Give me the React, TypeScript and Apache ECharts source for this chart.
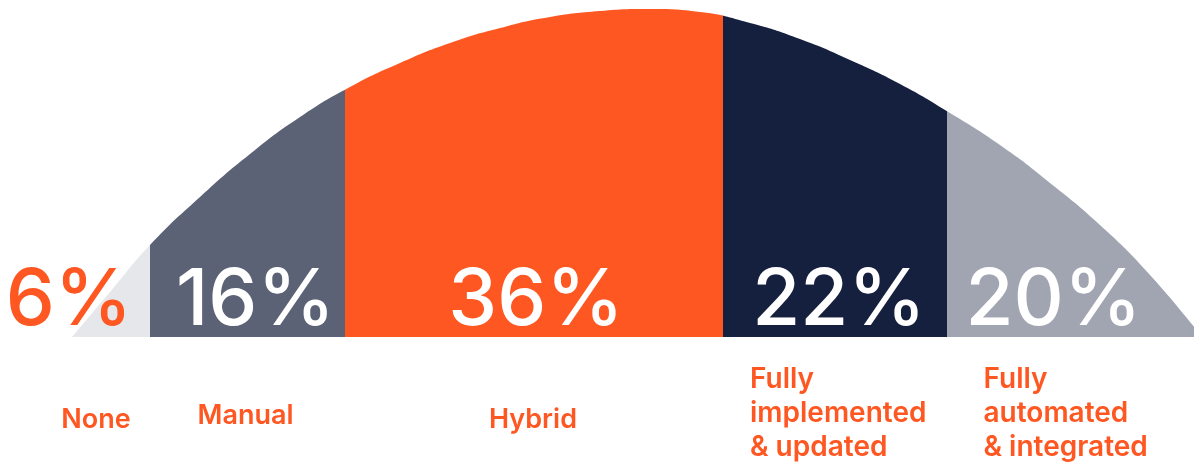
import React, { useEffect, useRef } from "react";
import * as echarts from "echarts";

// Adoption categories and their shares (%)
const categories = ["None", "Manual", "Hybrid", "Fully\nimplemented\n& updated", "Fully\nautomated\n& integrated"];
const shares = [6, 16, 36, 22, 20];
// Segment boundaries along the arch (horizontal units)
const segmentEdges = [72, 150, 345, 723, 947, 1202];
// Arch outline: horizontal position and height
const curveX = [72, 110, 150, 200, 250, 300, 350, 400, 450, 500, 550, 600, 650, 700, 750, 800, 850, 900, 950, 1000, 1050, 1100, 1150, 1202];
const curveH = [0, 45, 92, 140, 183, 220, 250, 274, 294, 309, 320, 326, 328, 325, 314, 298, 277, 253, 224, 192, 154, 112, 62, 0];

// Styles
const segColors = ["#e6e7eb", "#5c6276", "#fe5722", "#151f3e", "#a1a5b1"];
const pctColors = ["#fe5722", "#ffffff", "#ffffff", "#ffffff", "#ffffff"];
const pctDx = [-42, 8, 2, 4, -21];
const catDx = [-15, -2, -1, -85, -91];
const catDy = [81, 77, 81, 75, 75];
const catAlign = ["center", "center", "center", "left", "left"];
const catSize = [27, 27, 27, 28, 28];
const ORANGE = "#fe5722";
const FONT = "Inter, 'Noto Sans', sans-serif";

export default function App() {
  const ref = useRef<HTMLDivElement>(null);
  useEffect(() => {
    if (!ref.current) return;
    const chart = echarts.init(ref.current, undefined, { renderer: "svg" });
    const labelData = categories.map((c, i) => [(segmentEdges[i] + segmentEdges[i + 1]) / 2, shares[i], i]);
    chart.setOption({
      animation: false,
      grid: { left: 0, right: 0, top: 0, bottom: 126 },
      xAxis: { type: "value", min: 0, max: 1194, show: false },
      yAxis: { type: "value", min: 0, max: 337, show: false },
      visualMap: {
        type: "piecewise",
        show: false,
        dimension: 0,
        seriesIndex: 0,
        pieces: segColors.map((color, i) => ({ gte: segmentEdges[i], lt: i === segColors.length - 1 ? 100000 : segmentEdges[i + 1], color })),
      },
      series: [
        {
          type: "line",
          data: curveX.map((x, i) => [x, curveH[i]]),
          smooth: 0.5,
          symbol: "none",
          lineStyle: { width: 0 },
          areaStyle: { opacity: 1 },
          silent: true,
          z: 1,
        },
        {
          type: "custom",
          data: labelData,
          silent: true,
          z: 5,
          clip: false,
          renderItem: (params: any, api: any) => {
            const i = api.value(2);
            const p = api.coord([api.value(0), 0]);
            return {
              type: "group",
              children: [
                {
                  type: "text",
                  style: {
                    text: `${shares[i]}%`,
                    x: p[0] + pctDx[i],
                    y: p[1] - 41,
                    align: "center",
                    verticalAlign: "middle",
                    fill: pctColors[i],
                    fontSize: 78,
                    fontWeight: 500,
                    fontFamily: FONT,
                  },
                },
                {
                  type: "text",
                  style: {
                    text: categories[i],
                    x: p[0] + catDx[i],
                    y: p[1] + catDy[i],
                    align: catAlign[i],
                    verticalAlign: "middle",
                    fill: ORANGE,
                    fontSize: catSize[i],
                    fontWeight: 600,
                    lineHeight: 34,
                    fontFamily: FONT,
                  },
                },
              ],
            };
          },
        },
      ],
    });
    return () => chart.dispose();
  }, []);
  return <div ref={ref} style={{ position: "fixed", left: 0, top: 0, width: "1194px", height: "463px" }} />;
}
